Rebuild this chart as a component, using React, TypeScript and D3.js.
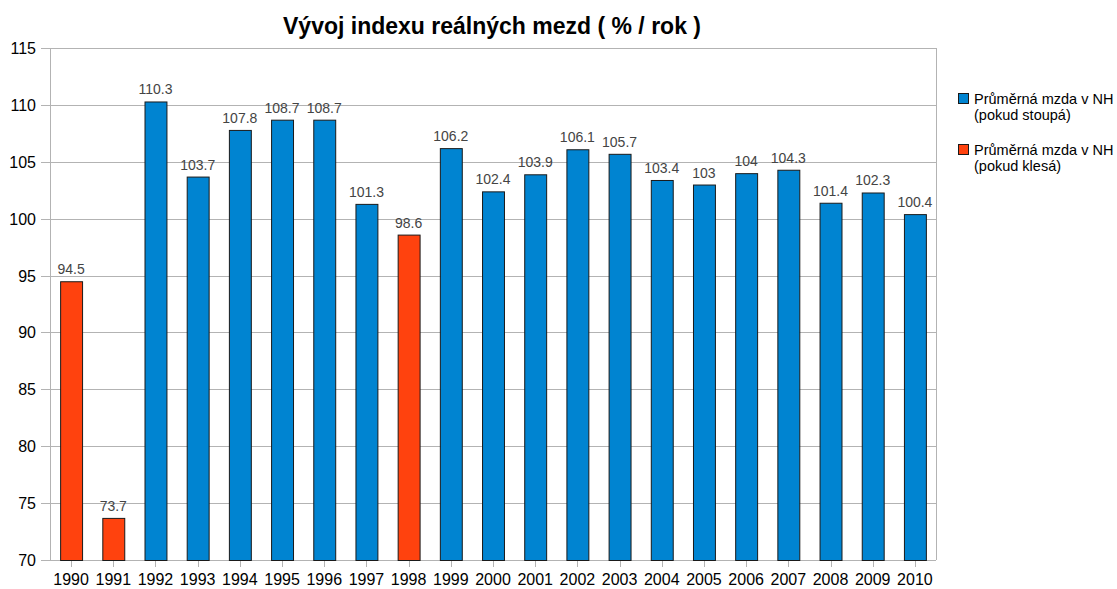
import React, { useEffect, useRef } from 'react';
import * as d3 from 'd3';

const years = ['1990', '1991', '1992', '1993', '1994', '1995', '1996', '1997', '1998', '1999', '2000', '2001', '2002', '2003', '2004', '2005', '2006', '2007', '2008', '2009', '2010'];
const rising: (number | null)[] = [null, null, 110.3, 103.7, 107.8, 108.7, 108.7, 101.3, null, 106.2, 102.4, 103.9, 106.1, 105.7, 103.4, 103, 104, 104.3, 101.4, 102.3, 100.4];
const falling: (number | null)[] = [94.5, 73.7, null, null, null, null, null, null, 98.6, null, null, null, null, null, null, null, null, null, null, null, null];
const yTicks = [70, 75, 80, 85, 90, 95, 100, 105, 110, 115];
const seriesNames = [['Průměrná mzda v NH', '(pokud stoupá)'], ['Průměrná mzda v NH', '(pokud klesá)']];
const colors = ['#0084d1', '#ff420e'];

function App() {
  const svgRef = useRef<SVGSVGElement>(null);

  useEffect(() => {
    const svg = d3.select(svgRef.current);
    svg.selectAll('*').remove();

    const width = 1117;
    const height = 589;
    const margin = { top: 48, right: 181, bottom: 29, left: 50 };
    const innerWidth = width - margin.left - margin.right;
    const innerHeight = height - margin.top - margin.bottom;
    const font = '"Liberation Sans", Arial, sans-serif';

    svg.attr('width', width).attr('height', height).style('font-family', font);

    svg.append('text')
      .attr('x', 492)
      .attr('y', 34)
      .attr('text-anchor', 'middle')
      .attr('font-size', 23)
      .attr('font-weight', 'bold')
      .text('Vývoj indexu reálných mezd ( % / rok )');

    const g = svg.append('g').attr('transform', `translate(${margin.left},${margin.top})`);

    const xScale = d3.scaleBand().domain(years).range([0, innerWidth]).paddingInner(0.48).paddingOuter(0.24);
    const yScale = d3.scaleLinear().domain([70, 115]).range([innerHeight, 0]);

    // grid
    g.selectAll('.grid')
      .data(yTicks)
      .enter()
      .append('line')
      .attr('x1', -9)
      .attr('x2', innerWidth)
      .attr('y1', d => Math.round(yScale(d)) + 0.5)
      .attr('y2', d => Math.round(yScale(d)) + 0.5)
      .attr('stroke', '#b3b3b3');

    g.append('line')
      .attr('x1', 0.5).attr('x2', 0.5).attr('y1', 0).attr('y2', innerHeight)
      .attr('stroke', '#b3b3b3');
    g.append('line')
      .attr('x1', innerWidth + 0.5).attr('x2', innerWidth + 0.5).attr('y1', 0).attr('y2', innerHeight)
      .attr('stroke', '#b3b3b3');

    g.selectAll('.ylabel')
      .data(yTicks)
      .enter()
      .append('text')
      .attr('x', -14)
      .attr('y', d => yScale(d) + 6)
      .attr('text-anchor', 'end')
      .attr('font-size', 16)
      .text(d => d);

    // x ticks
    g.selectAll('.xtick')
      .data(years)
      .enter()
      .append('line')
      .attr('x1', d => Math.round(xScale(d)! + xScale.bandwidth() / 2) + 0.5)
      .attr('x2', d => Math.round(xScale(d)! + xScale.bandwidth() / 2) + 0.5)
      .attr('y1', innerHeight)
      .attr('y2', innerHeight + 7)
      .attr('stroke', '#b3b3b3');

    g.selectAll('.xlabel')
      .data(years)
      .enter()
      .append('text')
      .attr('x', d => xScale(d)! + xScale.bandwidth() / 2)
      .attr('y', innerHeight + 25)
      .attr('text-anchor', 'middle')
      .attr('font-size', 16)
      .text(d => d);

    [rising, falling].forEach((values, si) => {
      const data = years.map((y, i) => ({ year: y, v: values[i] })).filter(d => d.v !== null) as { year: string; v: number }[];
      g.selectAll(`.bar${si}`)
        .data(data)
        .enter()
        .append('rect')
        .attr('x', d => xScale(d.year)! + 0.5)
        .attr('y', d => yScale(d.v) + 0.5)
        .attr('width', xScale.bandwidth())
        .attr('height', d => innerHeight - yScale(d.v))
        .attr('fill', colors[si])
        .attr('stroke', '#1a1a1a')
        .attr('stroke-width', 1);

      g.selectAll(`.val${si}`)
        .data(data)
        .enter()
        .append('text')
        .attr('x', d => xScale(d.year)! + xScale.bandwidth() / 2)
        .attr('y', d => yScale(d.v) - 7)
        .attr('text-anchor', 'middle')
        .attr('font-size', 14)
        .attr('fill', '#444')
        .text(d => d.v);
    });

    // legend
    const legend = svg.append('g').attr('transform', 'translate(958,93)');
    seriesNames.forEach((lines, i) => {
      const lg = legend.append('g').attr('transform', `translate(0,${i * 51})`);
      lg.append('rect')
        .attr('x', 0.5).attr('y', 0.5).attr('width', 10).attr('height', 10)
        .attr('fill', colors[i]).attr('stroke', '#1a1a1a');
      lines.forEach((t, j) => {
        lg.append('text')
          .attr('x', 16)
          .attr('y', 11 + j * 16)
          .attr('font-size', 14.5)
          .text(t);
      });
    });
  }, []);

  return (
    <div style={{ position: 'absolute', left: 0, top: 0, background: '#fff' }}>
      <svg ref={svgRef}></svg>
    </div>
  );
}

export default App;
